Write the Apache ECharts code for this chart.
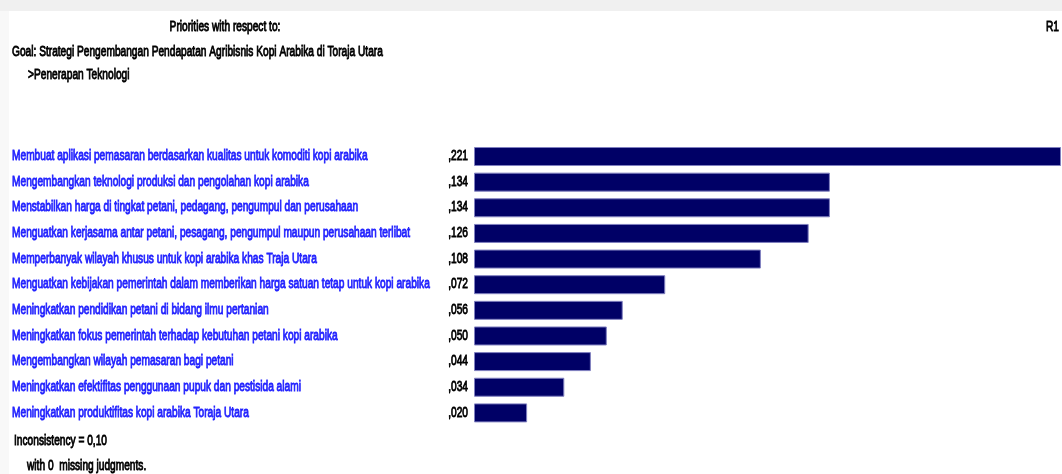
<!DOCTYPE html>
<html><head><meta charset="utf-8">
<script src="https://cdn.jsdelivr.net/npm/echarts@6/dist/echarts.min.js"></script>
<style>html,body{margin:0;padding:0;background:#fff}#c{width:1062px;height:474px}</style>
</head><body><div id="c"></div>
<script>
const categories = [
  'Membuat aplikasi pemasaran berdasarkan kualitas untuk komoditi kopi arabika',
  'Mengembangkan teknologi produksi dan pengolahan kopi arabika',
  'Menstabilkan harga di tingkat petani, pedagang, pengumpul dan perusahaan',
  'Menguatkan kerjasama antar petani, pesagang, pengumpul maupun perusahaan terlibat',
  'Memperbanyak wilayah khusus untuk kopi arabika khas Traja Utara',
  'Menguatkan kebijakan pemerintah dalam memberikan harga satuan tetap untuk kopi arabika',
  'Meningkatkan pendidikan petani di bidang ilmu pertanian',
  'Meningkatkan fokus pemerintah terhadap kebutuhan petani kopi arabika',
  'Mengembangkan wilayah pemasaran bagi petani',
  'Meningkatkan efektifitas penggunaan pupuk dan pestisida alami',
  'Meningkatkan produktifitas kopi arabika Toraja Utara'
];
const values = [0.221, 0.134, 0.134, 0.126, 0.108, 0.072, 0.056, 0.050, 0.044, 0.034, 0.020];
const headerTexts = ['Priorities with respect to:', 'Goal: Strategi Pengembangan Pendapatan Agribisnis Kopi Arabika di Toraja Utara', '>Penerapan Teknologi', 'R1'];
const footerTexts = ['Inconsistency = 0,10', 'with 0  missing judgments.'];

const FONT = "'Liberation Sans Narrow', 'Liberation Sans', sans-serif";
const SX = 0.678;
const chart = echarts.init(document.getElementById('c'));
function txt(t, x, y, opts) {
  opts = opts || {};
  const col = opts.color || '#000';
  return {
    type: 'text', x: x, y: y, scaleX: SX, scaleY: 1, silent: true,
    style: {
      text: t, x: 0, y: 0, fill: col, stroke: col, lineWidth: 0.9,
      font: '15px ' + FONT,
      textAlign: opts.align || 'left', textVerticalAlign: 'middle'
    }
  };
}
chart.setOption({
  animation: false,
  backgroundColor: '#fff',
  grid: { left: 474, top: 143.7, width: 587, height: 282 },
  xAxis: { type: 'value', min: 0, max: 0.221, show: false },
  yAxis: {
    type: 'category', data: categories, inverse: true,
    axisLine: { show: false }, axisTick: { show: false },
    axisLabel: { show: false }
  },
  series: [{
    type: 'bar', data: values, barWidth: 19,
    itemStyle: { color: '#000066', borderColor: '#8080c0', borderWidth: 1 }
  }]
});

const g = [
  { type: 'rect', shape: { x: 0, y: 0, width: 1062, height: 11 }, style: { fill: '#f0f0f0' } },
  { type: 'rect', shape: { x: 0, y: 11, width: 9, height: 463 }, style: { fill: '#f8f8f8' } },
  txt(headerTexts[0], 225, 27, { align: 'center' }),
  txt(headerTexts[1], 12, 52),
  txt(headerTexts[2], 28, 75),
  txt(headerTexts[3], 1059, 27, { align: 'right' }),
  txt(footerTexts[0], 14, 441),
  txt(footerTexts[1], 27, 466)
];
categories.forEach((c, i) => {
  const yc = chart.convertToPixel({ yAxisIndex: 0 }, i);
  g.push(txt(c, 12, yc - 0.5, { color: '#2323ff' }));
  g.push(txt(values[i].toFixed(3).replace(/^0\./, ','), 468, yc - 0.5, { align: 'right' }));
});
chart.setOption({ graphic: g });
</script></body></html>
